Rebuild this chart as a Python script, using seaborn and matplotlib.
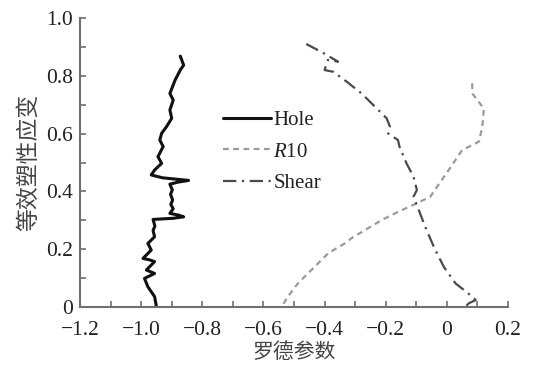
import matplotlib
matplotlib.use("Agg")
import matplotlib.pyplot as plt
import seaborn as sns
import pandas as pd

# ---------------- data ----------------
hole_x = [-0.872, -0.861, -0.872, -0.889, -0.906, -0.895, -0.906, -0.900, -0.917, -0.933,
          -0.939, -0.928, -0.945, -0.933, -0.956, -0.967, -0.930, -0.845, -0.880, -0.906,
          -0.898, -0.904, -0.897, -0.903, -0.895, -0.906, -0.878, -0.861, -0.895, -0.961,
          -0.955, -0.961, -0.956, -0.978, -0.967, -0.994, -0.972, -0.956, -0.983, -0.956,
          -0.989, -0.978, -0.956, -0.950]
hole_y = [0.868, 0.837, 0.820, 0.785, 0.739, 0.716, 0.682, 0.653, 0.624, 0.601,
          0.578, 0.555, 0.520, 0.497, 0.474, 0.457, 0.447, 0.438, 0.432, 0.425,
          0.405, 0.390, 0.370, 0.355, 0.340, 0.324, 0.318, 0.312, 0.307, 0.303,
          0.280, 0.265, 0.243, 0.220, 0.197, 0.168, 0.163, 0.157, 0.128, 0.116,
          0.099, 0.070, 0.036, 0.001]

r10_x = [0.083, 0.083, 0.121, 0.116, 0.105, 0.050, 0.006, -0.032, -0.054, -0.098,
         -0.158, -0.213, -0.268, -0.312, -0.334, -0.388, -0.443, -0.487, -0.520, -0.537]
r10_y = [0.774, 0.739, 0.687, 0.624, 0.572, 0.543, 0.474, 0.416, 0.382, 0.359,
         0.330, 0.301, 0.266, 0.238, 0.220, 0.186, 0.128, 0.082, 0.036, 0.007]

shear_x = [-0.460, -0.411, -0.356, -0.389, -0.400, -0.372, -0.328, -0.279, -0.235, -0.197,
           -0.186, -0.192, -0.160, -0.155, -0.132, -0.109, -0.098, -0.109, -0.092, -0.071,
           -0.043, -0.010, 0.028, 0.083, 0.094, 0.072, 0.061]
shear_y = [0.910, 0.883, 0.849, 0.855, 0.820, 0.814, 0.780, 0.739, 0.693, 0.653,
           0.624, 0.600, 0.578, 0.555, 0.497, 0.451, 0.405, 0.382, 0.336, 0.278,
           0.209, 0.139, 0.082, 0.036, 0.024, 0.013, 0.001]

series_names = ["Hole", "$R$10", "Shear"]
x_ticks = [-1.2, -1.0, -0.8, -0.6, -0.4, -0.2, 0.0, 0.2]
x_ticklabels = ["\u22121.2", "\u22121.0", "\u22120.8", "\u22120.6", "\u22120.4", "\u22120.2", "0", "0.2"]
y_ticks = [0.0, 0.2, 0.4, 0.6, 0.8, 1.0]
y_ticklabels = ["0", "0.2", "0.4", "0.6", "0.8", "1.0"]
x_label = "罗德参数"
y_label = "等效塑性应变"

# ---------------- style ----------------
sns.set_theme(style="white")
plt.rcParams["font.family"] = ["Liberation Serif", "Noto Sans CJK SC", "DejaVu Sans"]
plt.rcParams["mathtext.fontset"] = "custom"
plt.rcParams["mathtext.it"] = "Liberation Serif:italic"
plt.rcParams["mathtext.rm"] = "Liberation Serif"

fig = plt.figure(figsize=(5.34, 3.70), dpi=100)
ax = fig.add_axes([80 / 534, 1 - 307 / 370, 428 / 534, 289 / 370])

df_h = pd.DataFrame({"x": hole_x, "y": hole_y})
df_r = pd.DataFrame({"x": r10_x, "y": r10_y})
df_s = pd.DataFrame({"x": shear_x, "y": shear_y})

sns.lineplot(data=df_h, x="x", y="y", sort=False, estimator=None, ax=ax,
             color="#111111", lw=2.2, label=series_names[0])
sns.lineplot(data=df_r, x="x", y="y", sort=False, estimator=None, ax=ax,
             color="#9a9a9a", lw=1.6, linestyle=(0, (2.6, 2.0)), label=series_names[1])
sns.lineplot(data=df_s, x="x", y="y", sort=False, estimator=None, ax=ax,
             color="#4a4a4a", lw=1.6, linestyle=(0, (6, 2.5, 1, 2.5)), label=series_names[2])

ax.set_xlim(-1.2, 0.2)
ax.set_ylim(0, 1.0)
ax.set_xticks(x_ticks)
ax.set_xticklabels(x_ticklabels)
ax.set_yticks(y_ticks)
ax.set_yticklabels(y_ticklabels)
ax.set_xticks([v / 10 for v in range(-11, 2, 2)], minor=True)
ax.set_yticks([0.1, 0.3, 0.5, 0.7, 0.9], minor=True)

for side in ["top", "right"]:
    ax.spines[side].set_visible(False)
for side in ["left", "bottom"]:
    ax.spines[side].set_color("#707070")
    ax.spines[side].set_linewidth(1.5)

ax.tick_params(axis="both", which="both", direction="in", color="#707070",
               width=1.2, length=4, labelsize=15.5, labelcolor="#222222",
               bottom=True, left=True, top=False, right=False)
ax.tick_params(axis="x", which="both", pad=10)
ax.tick_params(axis="y", which="both", pad=5)

ax.set_xlabel(x_label, fontsize=15, family=["Noto Sans CJK SC"], color="#444444", labelpad=1)
ax.set_ylabel(y_label, fontsize=16.5, family=["Noto Sans CJK SC"], color="#444444", labelpad=4)

leg = ax.legend(loc="upper left", bbox_to_anchor=(0.334, 0.68), frameon=False,
                fontsize=15, handlelength=2.3, handletextpad=0.12, labelspacing=0.58,
                borderpad=0, borderaxespad=0)
for t in leg.get_texts():
    t.set_color("#222222")

fig.savefig("out.png", dpi=100)
